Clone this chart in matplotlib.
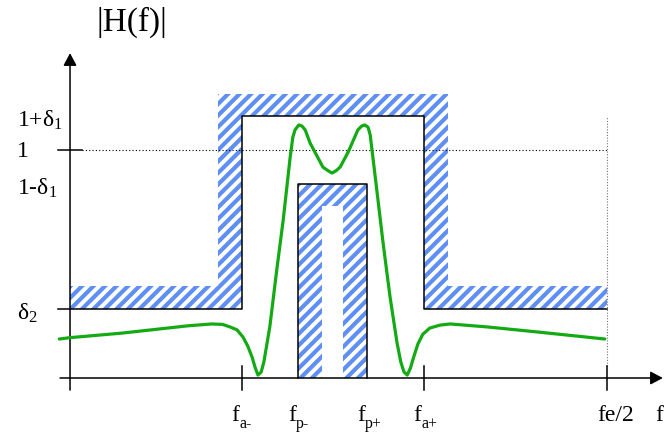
import numpy as np
import matplotlib
matplotlib.use("Agg")
import matplotlib.pyplot as plt
from matplotlib.patches import Polygon
from matplotlib.collections import LineCollection

# template edges (frequency normalised so fe/2 = 1)
f_a_lo = 0.320
f_p_lo = 0.425
f_p_hi = 0.553
f_a_hi = 0.659
f_nyq = 1.0
delta1 = 0.147
delta2 = 0.303

# response curve
freq = [-0.020, 0.0, 0.097, 0.220, 0.264, 0.284, 0.298, 0.311, 0.322, 0.331,
        0.339, 0.345, 0.350, 0.356, 0.361, 0.372, 0.385, 0.397, 0.410, 0.415,
        0.419, 0.426, 0.432, 0.438, 0.447, 0.456, 0.471, 0.480, 0.488, 0.496,
        0.503, 0.518, 0.536, 0.543, 0.549, 0.555, 0.559, 0.572, 0.583, 0.596,
        0.609, 0.616, 0.622, 0.628, 0.634, 0.640, 0.648, 0.657, 0.670, 0.689,
        0.708, 0.777, 0.870, 0.996]
gain = [0.171, 0.177, 0.197, 0.229, 0.237, 0.235, 0.224, 0.211, 0.180, 0.140,
        0.092, 0.044, 0.013, 0.026, 0.070, 0.224, 0.474, 0.693, 0.969, 1.057,
        1.088, 1.110, 1.105, 1.088, 1.031, 0.991, 0.925, 0.910, 0.899, 0.910,
        0.925, 0.991, 1.088, 1.105, 1.110, 1.100, 1.066, 0.811, 0.592, 0.355,
        0.154, 0.070, 0.026, 0.013, 0.044, 0.092, 0.150, 0.192, 0.219, 0.232,
        0.237, 0.224, 0.202, 0.171]

ytick_labels = ["1+$\\mathrm{\\delta}_1$", "1", "1-$\\mathrm{\\delta}_1$", "$\\mathrm{\\delta}_2$"]
ytick_vals = [1 + delta1, 1.0, 1 - delta1, delta2]
xtick_subs = ["a-", "p-", "p+", "a+"]
xtick_vals = [f_a_lo, f_p_lo, f_p_hi, f_a_hi]

plt.rcParams["font.family"] = "Liberation Serif"
plt.rcParams["mathtext.fontset"] = "custom"
plt.rcParams["mathtext.rm"] = "Liberation Serif"
plt.rcParams["mathtext.it"] = "Liberation Serif:italic"

W, H = 665, 437
fig = plt.figure(figsize=(W / 100, H / 100), dpi=100)
ax = fig.add_axes([0, 0, 1, 1])
ax.set_xlim(-0.1304, 1.108)
ax.set_ylim(-0.2588, 1.658)
ax.axis("off")

hw = 0.045   # hatch band width (x)
hy = 0.100   # hatch band width (y)


def hatched(xs, ys):
    poly = Polygon(np.column_stack([xs, ys]), closed=True, fill=False, lw=0,
                   transform=ax.transData)
    ax.add_patch(poly)
    segs = [[(x0 / W, 0), ((x0 + H) / W, 1)] for x0 in np.arange(-H, W, 11.5)]
    lc = LineCollection(segs, colors="#5f8ff2", linewidths=3.0,
                        transform=ax.transAxes, zorder=1)
    lc.set_clip_path(poly)
    ax.add_collection(lc)


# upper mask (stopbands + passband ceiling)
hatched([0, f_a_lo - hw, f_a_lo - hw, f_a_hi + hw, f_a_hi + hw, f_nyq, f_nyq,
         f_a_hi, f_a_hi, f_a_lo, f_a_lo, 0],
        [delta2 + hy, delta2 + hy, 1 + delta1 + hy, 1 + delta1 + hy, delta2 + hy,
         delta2 + hy, delta2, delta2, 1 + delta1, 1 + delta1, delta2, delta2])
# lower mask (passband floor)
hatched([f_p_lo, f_p_lo, f_p_hi, f_p_hi, f_p_hi - hw, f_p_hi - hw, f_p_lo + hw, f_p_lo + hw],
        [0, 1 - delta1, 1 - delta1, 0, 0, 1 - delta1 - hy, 1 - delta1 - hy, 0])

lw = 1.1
ax.plot([0, f_a_lo, f_a_lo, f_a_hi, f_a_hi, f_nyq],
        [delta2, delta2, 1 + delta1, 1 + delta1, delta2, delta2], color="k", lw=lw, zorder=2)
ax.plot([f_p_lo, f_p_lo, f_p_hi, f_p_hi], [0, 1 - delta1, 1 - delta1, 0],
        color="k", lw=lw, zorder=2)

# reference lines
ax.plot([0.022, f_nyq], [1, 1], color="k", lw=0.8, ls=(0, (1, 2)), zorder=2)
ax.plot([f_nyq, f_nyq], [0.053, 1 + delta1], color="0.45", lw=0.8, ls=(0, (1, 1.5)), zorder=2)

# axes with arrows
ax.annotate("", xy=(0, 1.425), xytext=(0, -0.053),
            arrowprops=dict(arrowstyle="-|>,head_length=0.75,head_width=0.4",
                            mutation_scale=10, lw=lw, color="k", shrinkA=0, shrinkB=0))
ax.annotate("", xy=(1.104, 0), xytext=(-0.0186, 0),
            arrowprops=dict(arrowstyle="-|>,head_length=0.75,head_width=0.4",
                            mutation_scale=10, lw=lw, color="k", shrinkA=0, shrinkB=0))

# ticks
ax.plot([-0.022, 0.022], [1, 1], color="k", lw=lw)
ax.plot([-0.022, 0], [delta2, delta2], color="k", lw=lw)
for xv in [f_a_lo, f_a_hi, f_nyq]:
    ax.plot([xv, xv], [-0.053, 0.053], color="k", lw=lw)

# response
ax.plot(freq, gain, color="#14aa14", lw=2.3, solid_capstyle="round",
        solid_joinstyle="round", zorder=4)

# labels
ax.text(0.115, 1.561, "|H(f)|", ha="center", va="center", fontsize=24)
ybase = [1.101, 0.969, 0.803, 0.254]
for lab, yb in zip(ytick_labels, ybase):
    ax.text(-0.0987, yb, lab, ha="left", va="baseline", fontsize=17)
for sub, xv in zip(xtick_subs, xtick_vals):
    ax.text(xv - 0.019, -0.19, "f", ha="left", va="baseline", fontsize=17)
    ax.annotate(sub, xy=(xv - 0.019, -0.19), xytext=(5.8, -5), textcoords="offset points",
                ha="left", va="baseline", fontsize=11.5)
ax.text(f_nyq - 0.019, -0.19, "fe/2", ha="left", va="baseline", fontsize=17)
ax.text(1.089, -0.19, "f", ha="left", va="baseline", fontsize=17)

fig.savefig("out.png", dpi=100)
